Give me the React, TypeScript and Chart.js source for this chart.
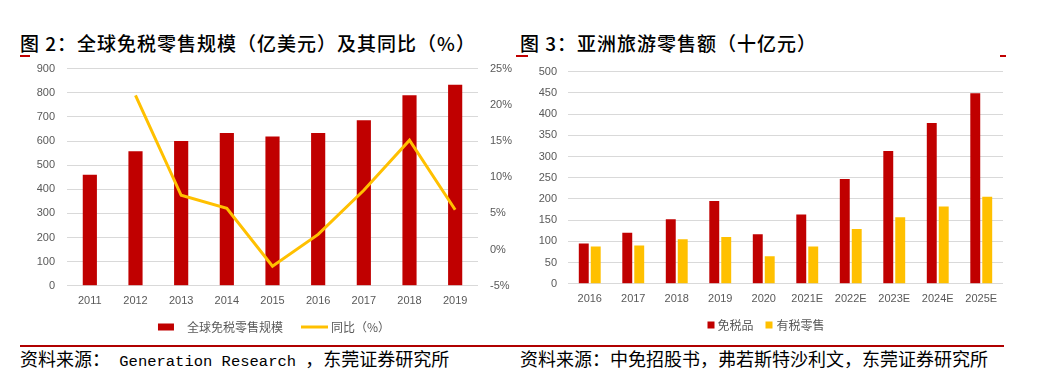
import React, { useEffect, useRef } from "react";
import { Chart, registerables } from "chart.js";

Chart.register(...registerables);

// ---------- Data: Figure 2 ----------
const years1 = ["2011", "2012", "2013", "2014", "2015", "2016", "2017", "2018", "2019"];
const globalDutyFree = [460, 558, 600, 633, 619, 633, 686, 790, 833];
const globalYoY = [null, 21.3, 7.5, 5.7, -2.3, 2.1, 8.2, 15.1, 5.5];
const leftTicks = { min: 0, max: 900, step: 100 };
const rightTicks = { min: -5, max: 25, step: 5 };

// ---------- Data: Figure 3 ----------
const years2 = ["2016", "2017", "2018", "2019", "2020", "2021E", "2022E", "2023E", "2024E", "2025E"];
const asiaDutyFree = [95, 120, 152, 195, 117, 163, 247, 313, 379, 449];
const asiaDutyPaid = [88, 90, 105, 110, 65, 88, 129, 157, 182, 205];
const asiaTicks = { min: 0, max: 500, step: 50 };

const RED = "#C00000";
const YELLOW = "#FFC000";
const GRID = "#D9D9D9";
const TICK = "#595959";
const TICK_FONT = { family: "'Liberation Sans', Arial, sans-serif", size: 11 };
const LEGEND_CSS_FONT = "12px 'Noto Sans CJK SC', 'Liberation Sans', sans-serif";

type LegendItem = { kind: "rect" | "line"; color: string; w: number; h: number; gap: number; label: string };

// Draws the legend with the chart's own datasets (labels and colours come from the chart data)
function makeLegendPlugin(shapes: { kind: "rect" | "line"; w: number; h: number; gap: number }[], itemGap: number, cx: number, cy: number) {
  return {
    id: "customLegend",
    afterDraw(chart: any) {
      const ctx = chart.ctx as CanvasRenderingContext2D;
      ctx.save();
      ctx.font = LEGEND_CSS_FONT;
      ctx.textBaseline = "middle";
      const items: LegendItem[] = chart.data.datasets.map((ds: any, i: number) => ({
        ...shapes[i],
        color: ds.type === "line" ? ds.borderColor : ds.backgroundColor,
        label: ds.label,
      }));
      const widths = items.map((it) => it.w + it.gap + ctx.measureText(it.label).width);
      const total = widths.reduce((a, b) => a + b, 0) + itemGap * (items.length - 1);
      let x = cx - total / 2;
      items.forEach((it, i) => {
        if (it.kind === "rect") {
          ctx.fillStyle = it.color;
          ctx.fillRect(x, cy - it.h / 2, it.w, it.h);
        } else {
          ctx.strokeStyle = it.color;
          ctx.lineWidth = it.h;
          ctx.beginPath();
          ctx.moveTo(x, cy);
          ctx.lineTo(x + it.w, cy);
          ctx.stroke();
        }
        ctx.fillStyle = TICK;
        ctx.fillText(it.label, x + it.w + it.gap, cy);
        x += widths[i] + itemGap;
      });
      ctx.restore();
    },
  };
}

function useChart(ref: React.RefObject<HTMLCanvasElement>, makeConfig: () => any) {
  useEffect(() => {
    if (!ref.current) return;
    const chart = new Chart(ref.current, makeConfig());
    return () => chart.destroy();
  }, []);
}

function GlobalChart() {
  const ref = useRef<HTMLCanvasElement>(null);
  useChart(ref, () => ({
    type: "bar",
    data: {
      labels: years1,
      datasets: [
        {
          type: "bar",
          label: "全球免税零售规模",
          data: globalDutyFree,
          backgroundColor: RED,
          borderWidth: 0,
          yAxisID: "y",
          categoryPercentage: 0.31,
          barPercentage: 1,
          order: 1,
        },
        {
          type: "line",
          label: "同比（%）",
          data: globalYoY,
          borderColor: YELLOW,
          backgroundColor: YELLOW,
          borderWidth: 3,
          pointRadius: 0,
          tension: 0,
          yAxisID: "y1",
          order: 0,
        },
      ],
    },
    plugins: [
      makeLegendPlugin(
        [
          { kind: "rect", w: 16, h: 7, gap: 13 },
          { kind: "line", w: 27, h: 3, gap: 3 },
        ],
        18,
        254,
        277
      ),
    ],
    options: {
      responsive: false,
      animation: false,
      layout: { padding: { top: 10, left: 0, right: 0, bottom: 28 } },
      plugins: {
        tooltip: { enabled: false },
        legend: { display: false },
      },
      scales: {
        x: {
          grid: { display: false, drawTicks: false },
          border: { display: false },
          ticks: { color: TICK, font: TICK_FONT, padding: 9, maxRotation: 0 },
        },
        y: {
          position: "left",
          min: leftTicks.min,
          max: leftTicks.max,
          ticks: { stepSize: leftTicks.step, color: TICK, font: TICK_FONT, padding: 12 },
          grid: { color: GRID, lineWidth: 1, drawTicks: false },
          border: { display: false },
          afterFit: (s: any) => {
            s.width = 47;
          },
        },
        y1: {
          position: "right",
          min: rightTicks.min,
          max: rightTicks.max,
          ticks: {
            stepSize: rightTicks.step,
            color: TICK,
            font: TICK_FONT,
            padding: 12,
            callback: (v: any) => v + "%",
          },
          grid: { display: false, drawTicks: false },
          border: { display: false },
          afterFit: (s: any) => {
            s.width = 42;
          },
        },
      },
    },
  }));
  return <canvas ref={ref} width={500} height={295} style={{ position: "absolute", left: 20, top: 50 }} />;
}

function AsiaChart() {
  const ref = useRef<HTMLCanvasElement>(null);
  useChart(ref, () => ({
    type: "bar",
    data: {
      labels: years2,
      datasets: [
        {
          label: "免税品",
          data: asiaDutyFree,
          backgroundColor: RED,
          borderWidth: 0,
          categoryPercentage: 0.55,
          barPercentage: 0.83,
        },
        {
          label: "有税零售",
          data: asiaDutyPaid,
          backgroundColor: YELLOW,
          borderWidth: 0,
          categoryPercentage: 0.55,
          barPercentage: 0.83,
        },
      ],
    },
    plugins: [
      makeLegendPlugin(
        [
          { kind: "rect", w: 7, h: 7, gap: 3 },
          { kind: "rect", w: 7, h: 7, gap: 4 },
        ],
        12,
        246,
        271
      ),
    ],
    options: {
      responsive: false,
      animation: false,
      layout: { padding: { top: 13, left: 0, right: 17, bottom: 30 } },
      plugins: {
        tooltip: { enabled: false },
        legend: { display: false },
      },
      scales: {
        x: {
          grid: { display: false, drawTicks: false },
          border: { display: false },
          ticks: { color: TICK, font: TICK_FONT, padding: 9, maxRotation: 0 },
        },
        y: {
          min: asiaTicks.min,
          max: asiaTicks.max,
          ticks: { stepSize: asiaTicks.step, color: TICK, font: TICK_FONT, padding: 11 },
          grid: { color: GRID, lineWidth: 1, drawTicks: false },
          border: { display: false },
          afterFit: (s: any) => {
            s.width = 48;
          },
        },
      },
    },
  }));
  return <canvas ref={ref} width={500} height={291} style={{ position: "absolute", left: 520, top: 54 }} />;
}

const titleStyle: React.CSSProperties = {
  position: "absolute",
  top: 31,
  fontFamily: "'Noto Sans CJK SC', sans-serif",
  fontSize: 19,
  fontWeight: 500,
  letterSpacing: 1,
  color: "#000",
  lineHeight: "24px",
  whiteSpace: "nowrap",
};

const sourceStyle: React.CSSProperties = {
  position: "absolute",
  top: 346,
  fontFamily: "'Noto Sans CJK SC', sans-serif",
  fontSize: 18,
  color: "#000",
  lineHeight: "24px",
  whiteSpace: "nowrap",
};

const mono: React.CSSProperties = {
  fontFamily: "'Liberation Mono', 'DejaVu Sans Mono', monospace",
  fontSize: 15.5,
};

function RedMark({ left, width }: { left: number; width: number }) {
  return <div style={{ position: "absolute", left, top: 55, width, height: 1.5, background: RED }} />;
}

export default function App() {
  return (
    <div
      style={{
        position: "absolute",
        left: 0,
        top: 0,
        width: 1063,
        height: 387,
        background: "#fff",
        overflow: "hidden",
      }}
    >
      <div style={{ ...titleStyle, left: 20 }}>图 2：全球免税零售规模（亿美元）及其同比（%）</div>
      <div style={{ ...titleStyle, left: 520 }}>图 3：亚洲旅游零售额（十亿元）</div>
      <RedMark left={20} width={10} />
      <RedMark left={516} width={12} />
      <RedMark left={1000} width={6} />
      <GlobalChart />
      <AsiaChart />
      <div style={{ position: "absolute", left: 20, top: 345, width: 984, height: 1.5, background: "#B00000" }} />
      <div style={{ ...sourceStyle, left: 20 }}>
        资料来源：<span style={mono}> Generation Research </span>，东莞证券研究所
      </div>
      <div style={{ ...sourceStyle, left: 520 }}>资料来源：中免招股书，弗若斯特沙利文，东莞证券研究所</div>
    </div>
  );
}
